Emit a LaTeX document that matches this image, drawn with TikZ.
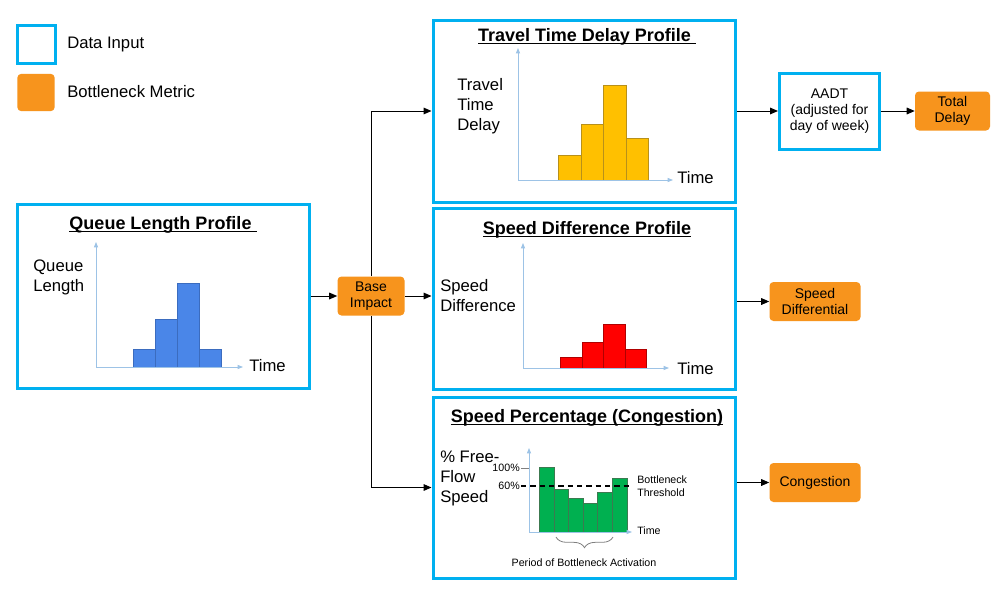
\documentclass[tikz,border=0pt]{standalone}
\usepackage{fontspec}
\setmainfont{Liberation Sans}
\usetikzlibrary{arrows.meta,decorations.pathreplacing}
\definecolor{cyanb}{HTML}{00B0F0}
\definecolor{orng}{HTML}{F7941D}
\definecolor{axisc}{HTML}{9DC3E6}
\definecolor{qblue}{HTML}{4A86E8}
\definecolor{qblueo}{HTML}{3B6CBF}
\definecolor{yel}{HTML}{FFC000}
\definecolor{yelo}{HTML}{B8901A}
\definecolor{redf}{HTML}{FF0000}
\definecolor{redo}{HTML}{B00000}
\definecolor{grn}{HTML}{00B050}
\definecolor{grno}{HTML}{3C7A50}
\newcommand\myul[1]{\setbox0\hbox{#1}\rlap{\rule[-2pt]{\wd0}{0.8pt}}\box0}
\tikzset{
  databox/.style={draw=cyanb, line width=2.25pt, fill=white, inner sep=0pt},
  metric/.style={fill=orng, rounded corners=3pt, inner sep=0pt, align=center,
    font=\fontsize{10.5}{12.5}\selectfont, minimum height=29.25pt},
  arr/.style={-{Triangle[length=6pt,width=5pt]}, line width=0.75pt, black},
  axisl/.style={draw=axisc, line width=0.6pt, -{Triangle[length=4pt,width=3pt]}},
  lbl/.style={font=\fontsize{12.5}{15}\selectfont, align=left, inner sep=0pt},
  small/.style={font=\fontsize{8}{9.75}\selectfont, inner sep=0pt, align=left},
  ttl/.style={font=\bfseries\fontsize{13.5}{16}\selectfont, inner sep=0pt, anchor=base},
}
\begin{document}
\begin{tikzpicture}[x=0.75pt,y=-0.75pt]
\useasboundingbox[fill=white] (0,0) rectangle (1002,603);
% legend
\node[databox, minimum size=28.5pt] (legd) at (36,44) {};
\node[lbl, anchor=west] (legdt) at (67,44) {Data Input};
\node[fill=orng, rounded corners=3pt, minimum size=28pt, inner sep=0pt] (lego) at (36,92.5) {};
\node[lbl, anchor=west] (legot) at (67,92) {Bottleneck Metric};
% main boxes
\node[databox, minimum width=219pt, minimum height=138pt] (ql) at (163,296) {};
\node[databox, minimum width=226.5pt, minimum height=136.5pt] (tt) at (584,111) {};
\node[databox, minimum width=226.5pt, minimum height=135.75pt] (sd) at (584,298.5) {};
\node[databox, minimum width=226.5pt, minimum height=135.75pt] (sp) at (584,487.5) {};
\node[databox, minimum width=75pt, minimum height=57pt, align=center,
  font=\fontsize{10.5}{11.8}\selectfont] (aadt) at (829.5,111) {AADT\\(adjusted for\\day of week)};
% metrics
\node[metric, minimum width=50.25pt] (bi) at (371,296) {Base\\Impact};
\node[metric, minimum width=56.25pt] (td) at (952.5,111) {Total\\Delay};
\node[metric, minimum width=68.25pt] (sdf) at (815,301.5) {Speed\\Differential};
\node[metric, minimum width=68.25pt] (cg) at (815,482.5) {Congestion};
% connectors
\draw[arr] (ql.east) -- (bi.west);
\draw[arr] (bi.east) -- (sd.west |- bi.east);
\draw[arr] (bi.north) |- (tt.west);
\draw[arr] (bi.south) |- (sp.west);
\draw[arr] (tt.east) -- (aadt.west);
\draw[arr] (aadt.east) -- (td.west);
\draw[arr] (sd.east |- sdf.west) -- (sdf.west);
\draw[arr] (sp.east |- cg.west) -- (cg.west);
% ---- Queue Length chart
\node[ttl] (qlt) at (163,229) {\myul{Queue Length Profile\ }};
\node[lbl, anchor=west] (qly) at (33,277) {Queue\\Length};
\foreach \a/\b/\t in {133/155/349,155/177/319,177/199/283,199/221/349}
  \draw[fill=qblue, draw=qblueo, line width=0.5pt] (\a,367) rectangle (\b,\t);
\draw[axisl] (96,367) -- (96,242);
\draw[axisl] (96,367) -- (243,367);
\node[lbl, anchor=west] (qlx) at (249,366) {Time};
% ---- Travel Time Delay chart
\node[ttl] (ttt) at (587,41) {\myul{Travel Time Delay Profile\ }};
\node[lbl, anchor=west] (tty) at (457,106) {Travel\\Time\\Delay};
\foreach \a/\b/\t in {558/581/155,581/603/124,603/626/85,626/648/138}
  \draw[fill=yel, draw=yelo, line width=0.5pt] (\a,180) rectangle (\b,\t);
\draw[axisl] (518,180) -- (518,48);
\draw[axisl] (518,180) -- (673,180);
\node[lbl, anchor=west] (ttx) at (677,178) {Time};
% ---- Speed Difference chart
\node[ttl] (sdt) at (587,234) {\myul{Speed Difference Profile}};
\node[lbl, anchor=west] (sdy) at (440,295.5) {Speed\\Difference};
\foreach \a/\b/\t in {560/582/357,582/603/342,603/625/324,625/646/349}
  \draw[fill=redf, draw=redo, line width=0.5pt] (\a,368) rectangle (\b,\t);
\draw[axisl] (523,368) -- (523,243);
\draw[axisl] (523,368) -- (669,368);
\node[lbl, anchor=west] (sdx) at (677,369) {Time};
% ---- Speed Percentage chart
\node[ttl] (spt) at (587,422) {\myul{Speed Percentage (Congestion)}};
\node[lbl, anchor=west] (spy) at (440,478) {\% Free-\\Flow\\Speed};
\foreach \a/\b/\t in {539/554/467,554/568/489,568/583/498,583/597/503,597/612/492,612/627/478}
  \draw[fill=grn, draw=grno, line width=0.5pt] (\a,532) rectangle (\b,\t);
\draw[axisl] (529,532) -- (529,448);
\draw[axisl] (529,532) -- (632,532);
\draw[gray, line width=0.5pt] (521,468) -- (529,468);
\draw[black, dashed, line width=1pt, dash pattern=on 4pt off 3pt] (521,486) -- (631,486);
\node[small, anchor=east] (p100) at (520,468) {100\%};
\node[small, anchor=east] (p60) at (520,486) {60\%};
\node[small, anchor=west] (spx) at (637,531) {Time};
\node[small, anchor=west] (bt) at (637,486.5) {Bottleneck\\Threshold};
\draw[gray, line width=0.6pt, decorate, decoration={brace, mirror, amplitude=8pt}] (556,537) -- (613,537);
\node[small] (pba) at (584,563) {Period of Bottleneck Activation};
\end{tikzpicture}
\end{document}
